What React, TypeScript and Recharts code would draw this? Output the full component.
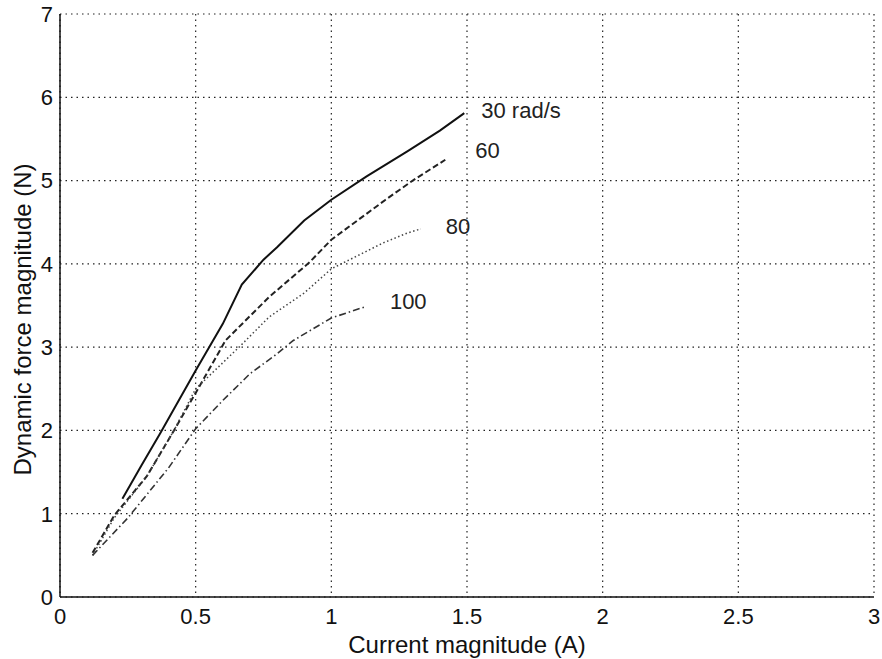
import { LineChart, Line, XAxis, YAxis, CartesianGrid, LabelList } from 'recharts'

// current magnitude (A) vs dynamic force magnitude (N), one list per speed
const speed30 = [
  { x: 0.23, y: 1.18 },
  { x: 0.3, y: 1.58 },
  { x: 0.37, y: 1.97 },
  { x: 0.5, y: 2.72 },
  { x: 0.6, y: 3.28 },
  { x: 0.67, y: 3.75 },
  { x: 0.75, y: 4.05 },
  { x: 0.8, y: 4.2 },
  { x: 0.9, y: 4.52 },
  { x: 1.0, y: 4.77 },
  { x: 1.13, y: 5.05 },
  { x: 1.28, y: 5.35 },
  { x: 1.4, y: 5.6 },
  { x: 1.49, y: 5.81 },
]

const speed60 = [
  { x: 0.12, y: 0.53 },
  { x: 0.2, y: 0.98 },
  { x: 0.32, y: 1.45 },
  { x: 0.42, y: 2.0 },
  { x: 0.5, y: 2.45 },
  { x: 0.61, y: 3.08 },
  { x: 0.77, y: 3.6 },
  { x: 0.92, y: 4.02 },
  { x: 1.0, y: 4.29 },
  { x: 1.2, y: 4.77 },
  { x: 1.3, y: 5.0 },
  { x: 1.42, y: 5.25 },
]

const speed80 = [
  { x: 0.12, y: 0.5 },
  { x: 0.2, y: 0.95 },
  { x: 0.32, y: 1.45 },
  { x: 0.42, y: 2.0 },
  { x: 0.5, y: 2.5 },
  { x: 0.66, y: 3.0 },
  { x: 0.77, y: 3.36 },
  { x: 0.9, y: 3.65 },
  { x: 1.0, y: 3.94 },
  { x: 1.19, y: 4.25 },
  { x: 1.28, y: 4.37 },
  { x: 1.33, y: 4.42 },
]

const speed100 = [
  { x: 0.12, y: 0.5 },
  { x: 0.25, y: 0.95 },
  { x: 0.4, y: 1.55 },
  { x: 0.5, y: 2.02 },
  { x: 0.6, y: 2.36 },
  { x: 0.7, y: 2.68 },
  { x: 0.8, y: 2.92 },
  { x: 0.86, y: 3.08 },
  { x: 1.0, y: 3.35 },
  { x: 1.12, y: 3.48 },
]

const xTicks = [0, 0.5, 1, 1.5, 2, 2.5, 3]
const yTicks = [0, 1, 2, 3, 4, 5, 6, 7]

const font = 'Arial, "Liberation Sans", sans-serif'

// text placed just after the last point of a curve
function endLabel(text: string, count: number, dx: number, dy: number) {
  return (props: any) => {
    if (props.index !== count - 1) return null
    return (
      <text
        x={props.x + dx}
        y={props.y + dy}
        fontSize={22}
        fontFamily={font}
        fill="#222"
        dominantBaseline="middle"
      >
        {text}
      </text>
    )
  }
}

export default function App() {
  const tickStyle = { fontSize: 22, fill: '#111', fontFamily: font }
  const frame = { stroke: '#111', strokeWidth: 1.5 }
  return (
    <div style={{ position: 'absolute', left: 0, top: 0, background: '#fff' }}>
      <LineChart
        width={882}
        height={659}
        margin={{ top: 14, right: 8, left: 0, bottom: 0 }}
      >
        <CartesianGrid stroke="#222" strokeWidth={1.2} strokeDasharray="1.5 4" />
        <XAxis
          type="number"
          dataKey="x"
          domain={[0, 3]}
          ticks={xTicks}
          tick={tickStyle}
          tickLine={false}
          axisLine={frame}
          height={62}
          tickMargin={5}
          label={{
            value: 'Current magnitude (A)',
            position: 'insideBottom',
            offset: 6,
            style: { fontSize: 24, fill: '#111', fontFamily: font },
          }}
        />
        <XAxis
          xAxisId="top"
          orientation="top"
          type="number"
          domain={[0, 3]}
          tick={false}
          tickLine={false}
          height={0}
          axisLine={frame}
        />
        <YAxis
          type="number"
          domain={[0, 7]}
          ticks={yTicks}
          tick={tickStyle}
          tickLine={false}
          width={60}
          tickMargin={1}
          axisLine={frame}
          label={{
            value: 'Dynamic force magnitude (N)',
            angle: -90,
            position: 'insideLeft',
            offset: 22,
            dy: 170,
            style: { fontSize: 24, fill: '#111', fontFamily: font },
          }}
        />
        <YAxis
          yAxisId="right"
          orientation="right"
          type="number"
          domain={[0, 7]}
          tick={false}
          tickLine={false}
          width={0}
          axisLine={frame}
        />
        <Line
          data={speed30}
          dataKey="y"
          type="linear"
          stroke="#111"
          strokeWidth={2}
          dot={false}
          isAnimationActive={false}
        >
          <LabelList content={endLabel('30 rad/s', speed30.length, 17, -1)} />
        </Line>
        <Line
          data={speed60}
          dataKey="y"
          type="linear"
          stroke="#222"
          strokeWidth={2}
          strokeDasharray="6 3"
          dot={false}
          isAnimationActive={false}
        >
          <LabelList content={endLabel('60', speed60.length, 30, -8)} />
        </Line>
        <Line
          data={speed80}
          dataKey="y"
          type="linear"
          stroke="#444"
          strokeWidth={1.5}
          strokeDasharray="1.5 2.5"
          dot={false}
          isAnimationActive={false}
        >
          <LabelList content={endLabel('80', speed80.length, 25, -1)} />
        </Line>
        <Line
          data={speed100}
          dataKey="y"
          type="linear"
          stroke="#333"
          strokeWidth={1.6}
          strokeDasharray="7 3 1.5 3"
          dot={false}
          isAnimationActive={false}
        >
          <LabelList content={endLabel('100', speed100.length, 26, -4)} />
        </Line>
      </LineChart>
    </div>
  )
}
